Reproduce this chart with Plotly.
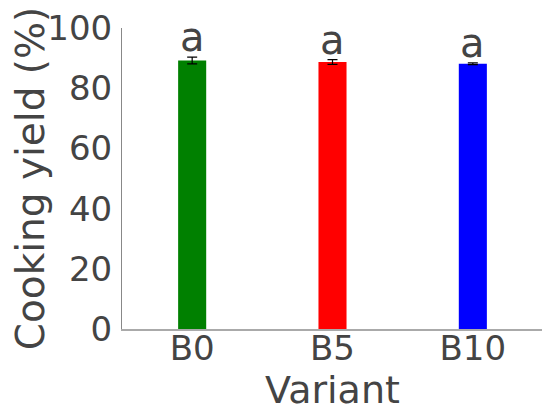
import plotly.graph_objects as go

variants = ['B0', 'B5', 'B10']
yield_pct = [89.2, 88.7, 88.1]
yield_err = [1.1, 0.8, 0.3]
letters = ['a', 'a', 'a']
colors = ['green', 'red', 'blue']

font = 'DejaVu Sans'

fig = go.Figure(go.Bar(
    x=variants,
    y=yield_pct,
    marker=dict(color=colors, line=dict(width=0)),
    error_y=dict(type='data', array=yield_err, visible=True,
                 color='black', thickness=1.2, width=5),
))

for v, y, e, t in zip(variants, yield_pct, yield_err, letters):
    fig.add_annotation(x=v, y=y + e, text=t, showarrow=False,
                       yanchor='bottom', yshift=-5,
                       font=dict(family=font, size=40, color='#444'))

# page body adds 8px margin, so margins are shifted to compensate
fig.update_layout(
    width=550, height=417,
    margin=dict(l=114, r=15, t=20, b=96),
    plot_bgcolor='white', paper_bgcolor='white',
    bargap=0.8,
    showlegend=False,
    font=dict(family=font, color='#444'),
)
fig.update_xaxes(
    title=dict(text='Variant', font=dict(size=38), standoff=0),
    tickfont=dict(size=34),
    showline=True, linecolor='#aaa', linewidth=1.5,
    ticks='', showgrid=False, ticklabelstandoff=-12, automargin=False,
)
fig.update_yaxes(
    title=dict(text='Cooking yield (%)', font=dict(size=39), standoff=2),
    tickfont=dict(size=34),
    range=[0, 100], tickvals=[0, 20, 40, 60, 80, 100],
    showline=True, linecolor='#888', linewidth=1,
    ticks='', showgrid=False, zeroline=False, ticklabelstandoff=2,
    ticklabeloverflow='allow', automargin=False,
)

fig.write_html('out.html')
